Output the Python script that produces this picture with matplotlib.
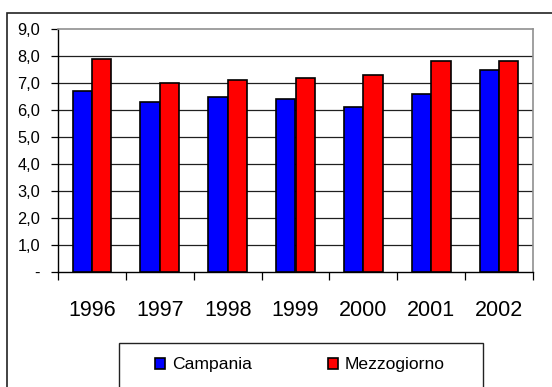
import matplotlib
matplotlib.use("Agg")
import matplotlib.pyplot as plt
from matplotlib.patches import Rectangle
import numpy as np

years = ["1996", "1997", "1998", "1999", "2000", "2001", "2002"]
campania = [6.7, 6.3, 6.5, 6.4, 6.1, 6.6, 7.5]
mezzogiorno = [7.9, 7.0, 7.1, 7.2, 7.3, 7.8, 7.8]
ytick_values = [0, 1, 2, 3, 4, 5, 6, 7, 8, 9]
ytick_labels = ["-", "1,0", "2,0", "3,0", "4,0", "5,0", "6,0", "7,0", "8,0", "9,0"]

plt.rcParams["font.family"] = ["Liberation Sans", "DejaVu Sans"]

W, H = 552, 387
fig = plt.figure(figsize=(W / 100, H / 100), dpi=100)
ax = fig.add_axes([58 / W, 1 - 272 / H, (533 - 58) / W, (272 - 29) / H])

x = np.arange(len(years))
bw = 0.285
b1 = ax.bar(x - bw / 2, campania, bw, color="#0000FF", edgecolor="black",
            linewidth=1.2, zorder=3, label="Campania")
b2 = ax.bar(x + bw / 2, mezzogiorno, bw, color="#FF0000", edgecolor="black",
            linewidth=1.2, zorder=3, label="Mezzogiorno")

ax.set_xlim(-0.5, len(years) - 0.5)
ax.set_ylim(0, 9)

# horizontal gridlines
for v in ytick_values[1:-1]:
    ax.axhline(v, color="#202020", linewidth=0.9, zorder=1)

ax.set_yticks(ytick_values)
ax.set_yticklabels(ytick_labels, fontsize=11.8)
ax.tick_params(axis="y", direction="out", length=5, width=0.9, pad=8)

ax.set_xticks(x)
ax.set_xticklabels(years, fontsize=15.5)
ax.set_xticks(np.arange(-0.5, len(years)), minor=True)
ax.tick_params(axis="x", which="major", length=0, pad=20)
ax.tick_params(axis="x", which="minor", direction="out", length=6, width=0.9)

for side in ("top", "right"):
    ax.spines[side].set_color("#909090")
    ax.spines[side].set_linewidth(1.2)
for side in ("left", "bottom"):
    ax.spines[side].set_color("black")
    ax.spines[side].set_linewidth(1.0)

# outer chart frame
fig.patches.append(Rectangle((7 / W, -0.1), 1.0, 1 - 13 / H + 0.1,
                             transform=fig.transFigure, fill=False,
                             edgecolor="#222222", linewidth=1.2, clip_on=False))
# legend frame
fig.patches.append(Rectangle((119 / W, -0.1), (483 - 119) / W, 44 / H + 0.1,
                             transform=fig.transFigure, fill=False,
                             edgecolor="#222222", linewidth=1.0, clip_on=False))

fig.legend(handles=[b1, b2], labels=["Campania", "Mezzogiorno"], ncol=2,
           loc="center", bbox_to_anchor=(300 / W, 1 - 365 / H), frameon=False,
           fontsize=12.6, handlelength=0.6, handleheight=0.65, handletextpad=0.4,
           columnspacing=4.3)

fig.savefig("out.png", dpi=100)
